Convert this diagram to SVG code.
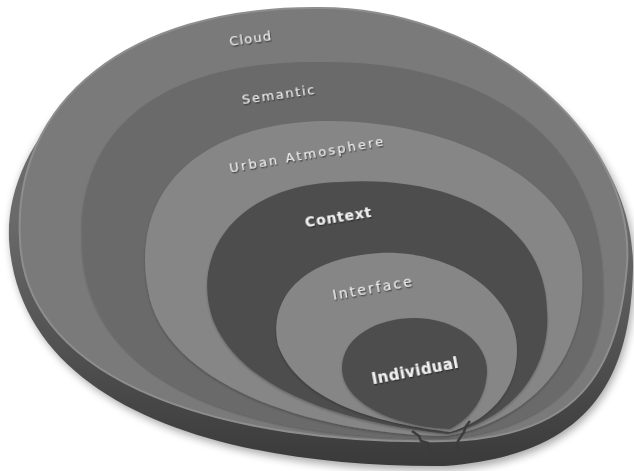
<svg xmlns="http://www.w3.org/2000/svg" width="634" height="471" viewBox="0 0 634 471">
<defs>
<style>
.lbl{font-family:"DejaVu Sans","Liberation Sans",sans-serif;fill:#f0f0f0;text-anchor:middle;filter:url(#ts)}
.b{font-weight:bold}
</style>
<filter id="ts" x="-20%" y="-50%" width="140%" height="200%">
<feDropShadow dx="0.7" dy="1.4" stdDeviation="0.5" flood-color="#262626" flood-opacity="0.85"/>
</filter>
<filter id="blur" x="-10%" y="-10%" width="120%" height="130%">
<feGaussianBlur stdDeviation="4"/>
</filter>
<filter id="soft" x="-5%" y="-5%" width="110%" height="110%">
<feDropShadow dx="0" dy="1.5" stdDeviation="1.2" flood-color="#000" flood-opacity="0.25"/>
</filter>
<linearGradient id="rimg" x1="0" y1="0" x2="0" y2="1">
<stop offset="0.45" stop-color="#6a6a6a"/>
<stop offset="0.8" stop-color="#4c4c4c"/>
<stop offset="1" stop-color="#3a3a3a"/>
</linearGradient>
</defs>

<g id="base">
<path d="M 448 470 C 230 472, 22 412, 11 242 C 7 130, 120 17, 314 16 C 480 14, 638 132, 635 272 C 632 382, 592 459, 448 470 Z" fill="#000" opacity="0.35" filter="url(#blur)"/>
<path d="M 445 466 C 230 468, 20 410, 9 240 C 5 130, 120 15, 314 14 C 480 12, 636 130, 633 270 C 630 380, 590 455, 445 466 Z" fill="url(#rimg)"/>
</g>

<g id="cloud">
<path d="M 445 441 C 230 445, 25 385, 20 240 C 12 100, 130 8, 314 8 C 480 5, 636 130, 627 265 C 618 375, 575 438, 445 441 Z" fill="#7a7a7a" stroke="#8e8e8e" stroke-width="2"/>
<text class="lbl" font-size="13" transform="translate(250 38) rotate(-8)" y="4.5" textLength="42">Cloud</text>
</g>

<g id="semantic">
<path d="M 446 438 C 240 440, 82 380, 82 240 C 78 130, 160 60, 320 62 C 500 60, 605 150, 603 290 C 605 380, 540 430, 446 438 Z" fill="#6b6b6b" filter="url(#soft)"/>
<text class="lbl" font-size="13" transform="translate(278 94) rotate(-8)" y="4.5" textLength="73">Semantic</text>
</g>

<g id="urban">
<path d="M 447 436 C 320 434, 175 390, 150 300 C 125 195, 195 125, 320 121 C 450 118, 575 180, 582 270 C 588 360, 530 420, 447 436 Z" fill="#868686" filter="url(#soft)"/>
<text class="lbl" font-size="13" transform="translate(306 154) rotate(-10)" y="4.5" textLength="156">Urban Atmosphere</text>
</g>

<g id="context">
<path d="M 448 434 C 370 426, 245 400, 213 320 C 190 255, 235 185, 340 182 C 460 175, 545 225, 547 310 C 552 370, 510 420, 448 434 Z" fill="#4e4e4e" filter="url(#soft)"/>
<text class="lbl b" font-size="14" transform="translate(338 217) rotate(-9)" y="5" textLength="67">Context</text>
</g>

<g id="interface">
<path d="M 450 432 C 385 424, 300 405, 278 345 C 268 300, 300 258, 380 253 C 460 250, 517 300, 517 350 C 517 390, 490 420, 450 432 Z" fill="#868686" filter="url(#soft)"/>
<text class="lbl" font-size="14" transform="translate(372 288) rotate(-10)" y="5" textLength="80">Interface</text>
</g>

<g id="individual">
<path d="M 450 429 C 400 428, 342 405, 342 368 C 342 335, 380 318, 414 318 C 455 318, 488 342, 487 372 C 486 400, 468 420, 450 429 Z" fill="#4e4e4e" filter="url(#soft)"/>
<text class="lbl b" font-size="15" transform="translate(415 371) rotate(-11)" y="5" textLength="88">Individual</text>
</g>

<g id="seam" fill="none">
<polyline points="412,431 419,436 421,441 428,443 431,462" stroke="#3c3c3c" stroke-width="2.5"/>
<polyline points="470,421 466,426 464,432 458,441 455,462" stroke="#3c3c3c" stroke-width="2.5"/>
</g>
</svg>
